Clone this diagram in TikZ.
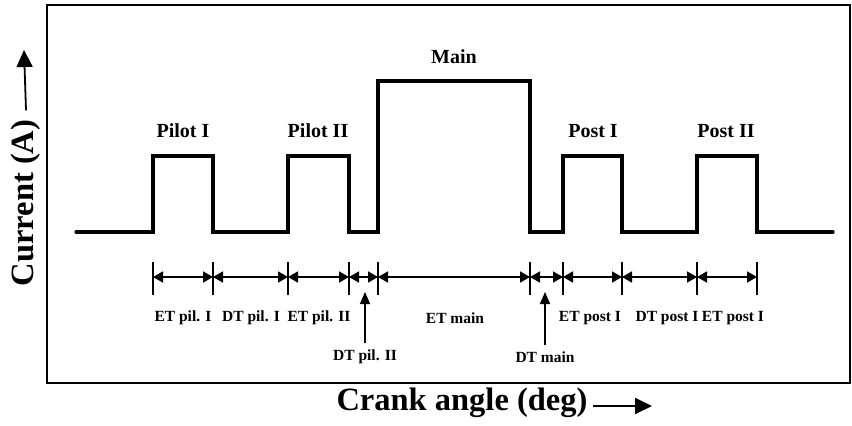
\documentclass[tikz,border=0pt]{standalone}
\usepackage{fontspec}
\setmainfont{Liberation Serif}
\usetikzlibrary{arrows.meta}

\tikzset{
  trace/.style={line width=3.2pt, line cap=round},
  dimline/.style={line width=1.6pt, {Triangle[length=10pt,width=11pt]}-{Triangle[length=10pt,width=11pt]}},
  pointer/.style={line width=1.6pt, -{Triangle[length=12pt,width=10pt]}},
  axisarrow/.style={line width=1.8pt, -{Triangle[length=17pt,width=16pt]}},
  pulselabel/.style={font=\bfseries\fontsize{20}{20}\selectfont},
  durlabel/.style={font=\bfseries\fontsize{15.5}{15.5}\selectfont},
  axislabel/.style={font=\bfseries\fontsize{32.5}{32.5}\selectfont},
}

\begin{document}
\begin{tikzpicture}[x=1pt, y=-1pt]
\useasboundingbox (0,0) rectangle (852,426);
\draw [line width=1.6pt] (47,5) rectangle (850,383);

% injection current trace
\draw [trace] (76,232) -| (153,156) -| (213,232) -| (288,156) -| (349,232)
  -| (378,81) -| (530,232) -| (563,156) -| (622,232) -| (697,156)
  -| (757,232) -- (833,232);

\node [pulselabel] (pilotI)  at (183,131) {Pilot I};
\node [pulselabel] (pilotII) at (318,131) {Pilot II};
\node [pulselabel] (main)    at (454,57)  {Main};
\node [pulselabel] (postI)   at (593,131) {Post I};
\node [pulselabel] (postII)  at (726,131) {Post II};

% tick marks and timing intervals
\foreach \x [count=\i] in {153,213,288,349,378,530,563,622,697,757} {
  \draw [line width=1.6pt] (\x,262) -- (\x,295);
  \coordinate (t\i) at (\x,277);
}
\foreach \a/\b in {1/2,2/3,3/4,4/5,5/6,6/7,7/8,8/9,9/10}
  \draw [dimline] (t\a) -- (t\b);

\node [durlabel] (etpilI)   at (183,318) {ET pil. I};
\node [durlabel] (dtpilI)   at (251,318) {DT pil. I};
\node [durlabel] (etpilII)  at (319,318) {ET pil. II};
\node [durlabel] (etmain)   at (455,318) {ET main};
\node [durlabel] (etpostI)  at (590,318) {ET post I};
\node [durlabel] (dtpostI)  at (667,318) {DT post I};
\node [durlabel] (etpostII) at (733,318) {ET post I};

\node [durlabel] (dtpilII) at (365,357) {DT pil. II};
\node [durlabel] (dtmain)  at (545,357) {DT main};
\draw [pointer] (dtpilII.north) ++(0,-3) -- (365,292);
\draw [pointer] (dtmain.north) ++(0,-3) -- (545,292);

% axis labels
\node [axislabel, rotate=90] (ylab) at (26,203) {Current (A)};
\draw [axisarrow] (ylab.east) ++(0,-6) -- (24,50);
\node [axislabel] (xlab) at (462,403) {Crank angle (deg)};
\draw [axisarrow] (xlab.east) ++(2,3) -- (652,406);
\end{tikzpicture}
\end{document}
